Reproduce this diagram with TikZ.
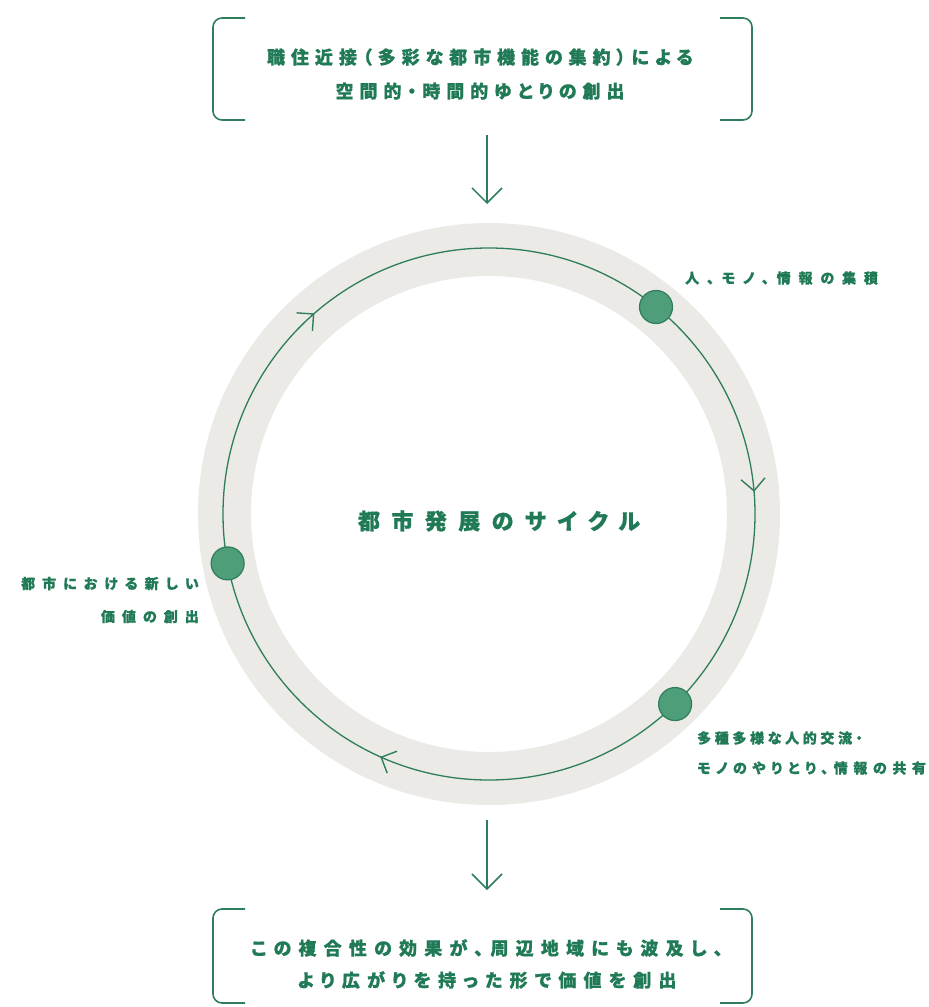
\documentclass[tikz,border=0pt]{standalone}
\usepackage{fontspec}
\newfontfamily\jp[RawFeature=+palt, BoldFeatures={FakeBold=0.8}]{Noto Sans CJK JP}
\newcommand{\ls}[1]{\addfontfeature{LetterSpace=#1}}
\usetikzlibrary{arrows.meta,decorations.markings}
\definecolor{tgreen}{HTML}{1F7A55}
\definecolor{lgreen}{HTML}{2E7D5B}
\definecolor{dotfill}{HTML}{4E9E7A}
\definecolor{ringgray}{HTML}{EBEAE6}
\tikzset{
  boxtext/.style={text=tgreen, align=center, inner sep=0pt},
  labtext/.style={text=tgreen, inner sep=0pt},
  brack/.style={draw=lgreen, line width=1.6pt, rounded corners=9pt},
  bigarrow/.style={draw=lgreen, line width=1.5pt, -{Straight Barb[length=15pt,width=30pt,line width=1.5pt]}},
  dotnode/.style={circle, draw=lgreen, line width=1.2pt, fill=dotfill, minimum size=33pt, inner sep=0pt},
  cycarrow/.tip={Straight Barb[length=12pt,width=24pt,line width=1.4pt]}
}
\begin{document}
\begin{tikzpicture}[x=1pt,y=1pt]
\useasboundingbox[fill=white] (0,0) rectangle (929,-1007);
\coordinate (C) at (489,-514);
% ring
\draw[ringgray, line width=53pt] (C) circle[radius=264.5];
% cycle line
\draw[lgreen, line width=1.3pt, postaction={decorate},
  decoration={markings,
    mark=at position 0.317 with {\arrow{cycarrow}},
    mark=at position 0.636 with {\arrow{cycarrow}},
    mark=at position 0.9867 with {\arrow{cycarrow}}}]
  ([shift={(0:266)}]C) arc[start angle=360, end angle=0, radius=266];
% dots
\node[dotnode] (d1) at ([shift={(51.1:266)}]C) {};
\node[dotnode] (d2) at ([shift={(-45.6:266)}]C) {};
\node[dotnode] (d3) at ([shift={(190.7:266)}]C) {};
% center text
\node[text=tgreen, inner sep=0pt, font=\jp\bfseries\fontsize{22}{24}\selectfont\ls{52}] (ctr) at (499,-521) {都市発展のサイクル};
% labels
\node[labtext, anchor=west, font=\jp\bfseries\fontsize{14}{30}\selectfont\ls{56}] (l1) at (685,-278) {人、モノ、情報の集積};
\node[labtext, anchor=west, align=left, font=\jp\bfseries\fontsize{14}{30}\selectfont] (l2) at (697,-753) {{\ls{26}多種多様な人的交流・}\\{\ls{40}モノのやりとり、情報の共有}};
\node[labtext, anchor=east, align=right, font=\jp\bfseries\fontsize{14}{33}\selectfont\ls{50}] (l3) at (199,-600) {都市における新しい\\価値の創出};
% top box
\node[boxtext, font=\jp\bfseries\fontsize{18}{34}\selectfont\ls{33}] (top) at (480,-74) {職住近接（多彩な都市機能の集約）による\\空間的・時間的ゆとりの創出};
\draw[brack] (245,-18) -- (213,-18) -- (213,-120) -- (245,-120);
\draw[brack] (720,-18) -- (752,-18) -- (752,-120) -- (720,-120);
% bottom box
\node[boxtext, font=\jp\bfseries\fontsize{18}{32}\selectfont\ls{40}] (bot) at (487,-964) {この複合性の効果が、周辺地域にも波及し、\\より広がりを持った形で価値を創出};
\draw[brack] (245,-909) -- (213,-909) -- (213,-1003) -- (245,-1003);
\draw[brack] (720,-909) -- (752,-909) -- (752,-1003) -- (720,-1003);
% arrows
\coordinate (a1s) at (487,-135);
\coordinate (a1e) at (487,-204);
\coordinate (a2s) at (487,-820);
\coordinate (a2e) at (487,-890);
\draw[bigarrow] (a1s) -- (a1e);
\draw[bigarrow] (a2s) -- (a2e);
\end{tikzpicture}
\end{document}
